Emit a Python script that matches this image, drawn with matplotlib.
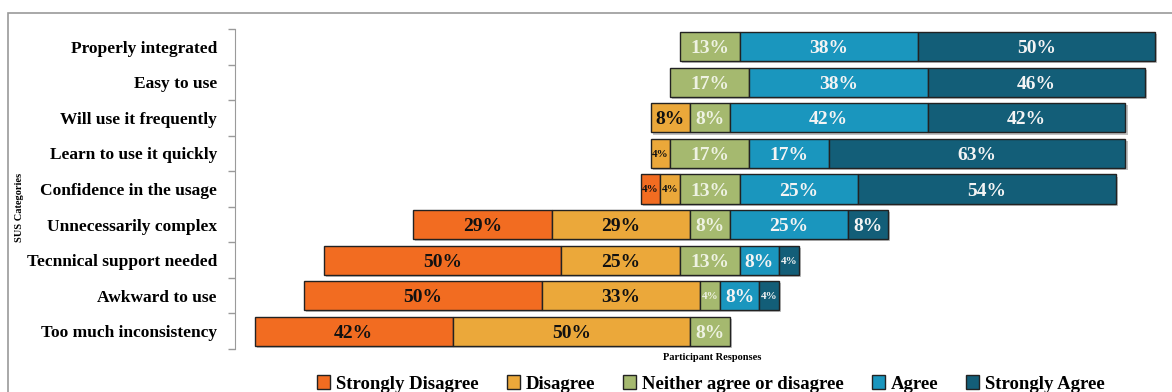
import numpy as np
import matplotlib.pyplot as plt
import matplotlib.patheffects as pe
from matplotlib.patches import Rectangle, Patch

plt.rcParams.update({
    'font.family': ['Liberation Serif', 'DejaVu Serif'],
    'font.weight': 'bold',
})

# SUS answers, number of participants per level (24 respondents)
n_participants = 24
categories = ['Properly integrated', 'Easy to use', 'Will use it frequently',
              'Learn to use it quickly', 'Confidence in the usage',
              'Unnecessarily complex', 'Tecnnical support needed',
              'Awkward to use', 'Too much inconsistency']
strongly_disagree = [0, 0, 0, 0, 1, 7, 12, 12, 10]
disagree = [0, 0, 2, 1, 1, 7, 6, 8, 12]
neutral = [3, 4, 2, 4, 3, 2, 3, 1, 2]
agree = [9, 9, 10, 4, 6, 6, 2, 2, 0]
strongly_agree = [12, 11, 10, 15, 13, 2, 1, 1, 0]

levels = ['Strongly Disagree', 'Disagree', 'Neither agree or disagree',
          'Agree', 'Strongly Agree']
colors = ['#F26C21', '#EBA83A', '#A5B96F', '#1A96BE', '#135E78']
text_colors = ['#111111', '#111111', '#EEF2E2', '#F4F4F4', '#F4F4F4']

W, H = 1172, 392
fig = plt.figure(figsize=(W / 100, H / 100), dpi=100)

# grey frame of the chart area (cut at right/bottom like the original)
fig.add_artist(Rectangle((8 / W, -0.2), 1.2, (H - 13) / H + 0.2,
                         transform=fig.transFigure, fill=False,
                         edgecolor='#9A9A9A', lw=1.2))

ax = fig.add_axes([235 / W, (H - 349) / H, (W - 235) / W, 320 / H])

data = np.array([strongly_disagree, disagree, neutral, agree, strongly_agree]) * 100.0 / n_participants
y = np.arange(len(categories))
left = -(data[0] + data[1] + data[2] / 2)

shadow = [pe.SimplePatchShadow(offset=(1.5, -1.5), shadow_rgbFace='#999999', alpha=0.6), pe.Normal()]

for k in range(5):
    vals = data[k]
    bars = ax.barh(y, vals, left=left, height=0.82, color=colors[k],
                   edgecolor='#222222', lw=1.0)
    for b, v in zip(bars, vals):
        b.set_path_effects(shadow)
        if v <= 0:
            b.set_visible(False)
            continue
        pct = int(np.floor(v + 0.5))
        small = v < 5
        ax.text(b.get_x() + v / 2, b.get_y() + b.get_height() / 2, f'{pct}%',
                ha='center', va='center_baseline', color=text_colors[k],
                fontsize=8 if small else 14, fontweight='bold')
    left = left + vals

ax.set_xlim(-100, (W - 709.8) / 4.75)
ax.set_ylim(len(categories) - 0.5, -0.5)
ax.set_xticks([])
ax.set_yticks(y)
ax.set_yticklabels(categories, fontsize=12.5, fontweight='bold')
ax.set_yticks(np.arange(len(categories) + 1) - 0.5, minor=True)
ax.tick_params(axis='y', which='major', length=0, pad=13)
ax.tick_params(axis='y', which='minor', length=5, color='#9A9A9A', width=1)
for s in ['top', 'right', 'bottom']:
    ax.spines[s].set_visible(False)
ax.spines['left'].set_color('#9A9A9A')
ax.set_facecolor('none')

fig.text(712 / W, (H - 358) / H, 'Participant Responses', ha='center', va='center',
         fontsize=7.5, fontweight='bold')
fig.text(20 / W, (H - 207) / H, 'SUS Categories', ha='center', va='center',
         rotation=90, fontsize=7.5, fontweight='bold')

handles = [Patch(facecolor=c, edgecolor='#222222', lw=1.0) for c in colors]
leg = fig.legend(handles, levels, loc='center',
                 bbox_to_anchor=(711 / W, 8 / H), ncol=5, frameon=False,
                 fontsize=13.5, handlelength=0.7, handleheight=0.7,
                 handletextpad=0.3, columnspacing=1.5)
for t in leg.get_texts():
    t.set_fontweight('bold')

fig.savefig('out.png', dpi=100)
